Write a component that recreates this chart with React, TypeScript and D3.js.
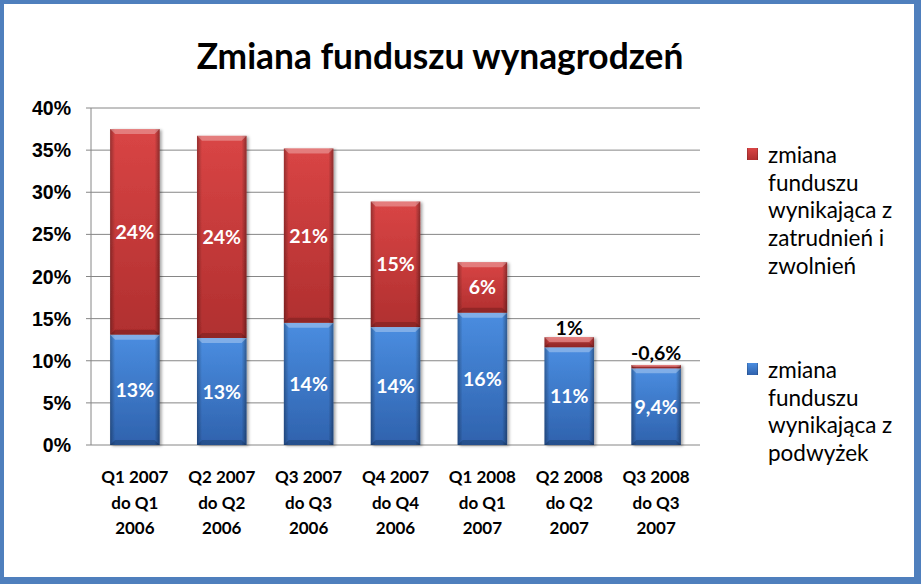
import React from 'react';
import * as d3 from 'd3';

const categories = [
  ['Q1 2007', 'do Q1', '2006'],
  ['Q2 2007', 'do Q2', '2006'],
  ['Q3 2007', 'do Q3', '2006'],
  ['Q4 2007', 'do Q4', '2006'],
  ['Q1 2008', 'do Q1', '2007'],
  ['Q2 2008', 'do Q2', '2007'],
  ['Q3 2008', 'do Q3', '2007'],
];
// zmiana funduszu wynikająca z podwyżek (bottom, blue)
const podwyzki = [13.1, 12.7, 14.5, 14.0, 15.7, 11.6, 9.1];
const podwyzkiLabels = ['13%', '13%', '14%', '14%', '16%', '11%', '9,4%'];
// zmiana funduszu wynikająca z zatrudnień i zwolnień (top, red)
const zatrudnienia = [24.4, 24.0, 20.7, 14.9, 6.0, 1.2, 0.4];
const zatrudnieniaLabels = ['24%', '24%', '21%', '15%', '6%', '1%', '-0,6%'];
const yTicks = [0, 5, 10, 15, 20, 25, 30, 35, 40];
const legendItems = [
  { key: 'red', lines: ['zmiana', 'funduszu', 'wynikająca z', 'zatrudnień i', 'zwolnień'] },
  { key: 'blue', lines: ['zmiana', 'funduszu', 'wynikająca z', 'podwyżek'] },
];

const W = 921;
const H = 584;
const plot = { left: 91, right: 700, top: 108, bottom: 445 };
const labelFont = 'Lato, "Open Sans", sans-serif';

const App: React.FC = () => {
  const x = d3
    .scaleBand<number>()
    .domain(d3.range(categories.length))
    .range([plot.left, plot.right])
    .paddingInner(0.43)
    .paddingOuter(0.22);
  const y = d3.scaleLinear().domain([0, 40]).range([plot.bottom, plot.top]);
  const bw = x.bandwidth();

  const segment = (i: number, lo: number, hi: number, color: 'red' | 'blue') => {
    const x0 = x(i)!;
    const y0 = y(hi);
    const y1 = y(lo);
    const h = y1 - y0;
    const bev = Math.min(5, h / 2);
    return (
      <g key={`${color}-${i}`}>
        <rect x={x0} y={y0} width={bw} height={h} fill={`url(#fill-${color})`} />
        <rect x={x0} y={y0} width={bw} height={h} fill="url(#edges)" />
        <polygon
          points={`${x0},${y0} ${x0 + bw},${y0} ${x0 + bw - bev},${y0 + bev} ${x0 + bev},${y0 + bev}`}
          fill="#fff"
          opacity={0.3}
        />
        <polygon
          points={`${x0},${y1} ${x0 + bw},${y1} ${x0 + bw - bev},${y1 - bev} ${x0 + bev},${y1 - bev}`}
          fill="#000"
          opacity={0.18}
        />
      </g>
    );
  };

  return (
    <svg width={W} height={H} style={{ position: 'absolute', left: 0, top: 0 }}>
      <defs>
        <linearGradient id="fill-red" x1="0" y1="0" x2="0" y2="1">
          <stop offset="0%" stopColor="#d94545" />
          <stop offset="100%" stopColor="#b02f2f" />
        </linearGradient>
        <linearGradient id="fill-blue" x1="0" y1="0" x2="0" y2="1">
          <stop offset="0%" stopColor="#4a8de0" />
          <stop offset="100%" stopColor="#2f62ad" />
        </linearGradient>
        <linearGradient id="edges" x1="0" y1="0" x2="1" y2="0">
          <stop offset="0%" stopColor="#000" stopOpacity={0.3} />
          <stop offset="10%" stopColor="#000" stopOpacity={0} />
          <stop offset="90%" stopColor="#000" stopOpacity={0} />
          <stop offset="100%" stopColor="#000" stopOpacity={0.35} />
        </linearGradient>
        <filter id="shadow" x="-20%" y="-20%" width="140%" height="140%">
          <feDropShadow dx="2" dy="1" stdDeviation="1.5" floodColor="#000" floodOpacity="0.35" />
        </filter>
      </defs>

      {/* frame */}
      <rect x={0} y={0} width={W} height={H} fill="#4f7fbd" />
      <rect x={4} y={4} width={910} height={573} fill="#fff" />

      <text
        x={440}
        y={57}
        dy="0.35em"
        textAnchor="middle"
        fontFamily={labelFont}
        fontWeight={700}
        fontSize={35.3}
        fill="#000"
      >
        Zmiana funduszu wynagrodzeń
      </text>

      {/* grid + axis */}
      {yTicks.map((t) => (
        <g key={t}>
          <line x1={plot.left - 5} x2={plot.right} y1={y(t)} y2={y(t)} stroke="#868686" strokeWidth={1} />
          <text
            x={71}
            y={y(t)}
            dy="0.36em"
            textAnchor="end"
            fontFamily='"Liberation Sans", Arial, sans-serif'
            fontWeight={700}
            fontSize={19.5}
            fill="#000"
          >
            {`${t}%`}
          </text>
        </g>
      ))}
      <line x1={plot.left} x2={plot.left} y1={plot.top} y2={plot.bottom} stroke="#868686" strokeWidth={1} />

      {/* bars */}
      {categories.map((_, i) => (
        <g key={i} filter="url(#shadow)">
          {segment(i, 0, podwyzki[i], 'blue')}
          {segment(i, podwyzki[i], podwyzki[i] + zatrudnienia[i], 'red')}
        </g>
      ))}

      {/* data labels */}
      {categories.map((_, i) => {
        const cx = x(i)! + bw / 2;
        const blueMid = (y(0) + y(podwyzki[i])) / 2;
        const redTop = y(podwyzki[i] + zatrudnienia[i]);
        const redBot = y(podwyzki[i]);
        const small = redBot - redTop < 22;
        const redY = small ? (redTop + redBot) / 2 - 14 : (redTop + redBot) / 2;
        return (
          <g key={i} fontFamily={labelFont} fontWeight={700} fontSize={19.5} textAnchor="middle">
            <text x={cx} y={blueMid} dy="0.36em" fill="#fff">
              {podwyzkiLabels[i]}
            </text>
            <text x={cx} y={redY} dy="0.36em" fill={small ? '#000' : '#fff'}>
              {zatrudnieniaLabels[i]}
            </text>
          </g>
        );
      })}

      {/* category labels */}
      {categories.map((lines, i) => (
        <text
          key={i}
          textAnchor="middle"
          fontFamily={labelFont}
          fontWeight={700}
          fontSize={17}
          fill="#000"
        >
          {lines.map((l, j) => (
            <tspan key={j} x={x(i)! + bw / 2} y={477 + j * 25.5} dy="0.36em">
              {l}
            </tspan>
          ))}
        </text>
      ))}

      {/* legend */}
      {legendItems.map((item, k) => {
        const top = k === 0 ? 155 : 370;
        return (
          <g key={item.key}>
            <rect x={747} y={top - 7} width={11} height={12} fill={`url(#fill-${item.key})`} />
            <rect x={747} y={top - 7} width={11} height={12} fill="url(#edges)" />
            <text fontFamily={labelFont} fontSize={22.5} fill="#000">
              {item.lines.map((l, j) => (
                <tspan key={j} x={768} y={top + j * 27.7} dy="0.35em">
                  {l}
                </tspan>
              ))}
            </text>
          </g>
        );
      })}
    </svg>
  );
};

export default App;
